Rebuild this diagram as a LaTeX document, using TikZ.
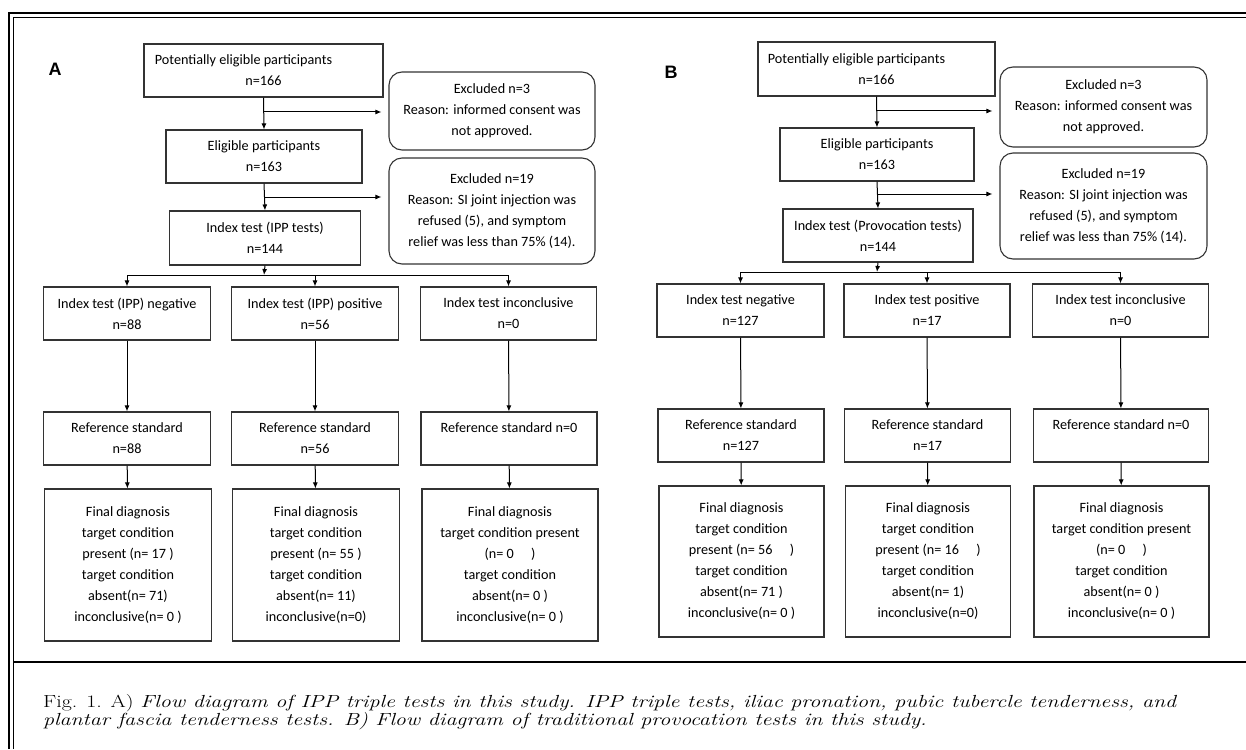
\documentclass[tikz,border=0pt]{standalone}
\usepackage{fontspec}
\newfontfamily\boxfont{Carlito}
\newfontfamily\panelfont{Liberation Sans}
\newfontfamily\capfont{Latin Modern Roman}[FakeStretch=1.255]
\usetikzlibrary{arrows.meta}

\tikzset{
  box/.style={draw=black!80, line width=1.1pt, align=center, inner sep=0pt,
    font=\boxfont\fontsize{14.2}{21}\selectfont},
  rbox/.style={box, rounded corners=13pt},
  arr/.style={line width=1pt, -{Latex[length=6pt,width=5pt]}},
  panel/.style={font=\panelfont\bfseries\fontsize{18}{18}\selectfont},
  caption/.style={align=left, inner sep=0pt, font=\capfont\fontsize{17.5}{18.5}\selectfont},
}

\begin{document}
\begin{tikzpicture}[x=1pt,y=-1pt]
\useasboundingbox (0,0) rectangle (1246,749);
\draw[line width=2.5pt] (9,749)--(9,13)--(1246,13);
\draw[line width=0.8pt] (13,749)--(13,17)--(1246,17);
\draw[line width=1.5pt] (13,662)--(1246,662);

\node[panel] (labA) at (55,69) {A};
\node[box, minimum width=239pt, minimum height=53pt] (PA) at (263.5,70.5) {Potentially eligible participants\hspace*{40pt}\\n=166};
\node[rbox, minimum width=206pt, minimum height=78pt] (XA1) at (492,111) {Excluded n=3\\Reason: informed consent was\\not approved.};
\node[box, minimum width=196pt, minimum height=53pt] (EA) at (264,156.5) {Eligible participants\\n=163};
\node[rbox, minimum width=206pt, minimum height=106pt] (XA2) at (492,211) {Excluded n=19\\Reason: SI joint injection was\\refused (5), and symptom\\relief was less than 75\% (14).};
\node[box, minimum width=191pt, minimum height=54pt] (IA) at (265,238) {Index test (IPP tests)\\n=144};
\node[box, minimum width=167pt, minimum height=53pt] (negA) at (127,313.5) {Index test (IPP) negative\\n=88};
\node[box, minimum width=167pt, minimum height=53pt] (posA) at (315,313.5) {Index test (IPP) positive\\n=56};
\node[box, minimum width=176pt, minimum height=53pt] (incA) at (508.5,313.5) {Index test inconclusive\\n=0};
\node[box, minimum width=167pt, minimum height=53pt] (refnegA) at (127,438.5) {Reference standard\\n=88};
\node[box, minimum width=167pt, minimum height=53pt] (refposA) at (315,438.5) {Reference standard\\n=56};
\node[box, minimum width=176pt, minimum height=53pt] (refincA) at (509,438.5) {Reference standard n=0\\\mbox{}};
\node[box, minimum width=167pt, minimum height=152pt] (finnegA) at (128,565) {Final diagnosis\\target condition\\present (n= 17 )\\target condition\\absent(n= 71)\\inconclusive(n= 0 )};
\node[box, minimum width=167pt, minimum height=152pt] (finposA) at (316,565) {Final diagnosis\\target condition\\present (n= 55 )\\target condition\\absent(n= 11)\\inconclusive(n=0)};
\node[box, minimum width=176pt, minimum height=152pt] (finincA) at (510,565) {Final diagnosis\\target condition present\\(n= 0\quad\ )\\target condition\\absent(n= 0 )\\inconclusive(n= 0 )};

\coordinate (bA1) at (264,112);
\coordinate (bA2) at (264,197);
\coordinate (jA) at (264,275);
\draw[arr] (PA.south) -- (EA.north);
\draw[arr, shorten >=7pt] (bA1) -- (bA1 -| XA1.west);
\draw[arr] (EA.south) -- (IA.north);
\draw[arr, shorten >=7pt] (bA2) -- (bA2 -| XA2.west);
\draw[arr] (IA.south) -- (jA);
\draw[arr] (jA) -| (negA.north);
\draw[arr] (jA) -| (posA.north);
\draw[arr] (jA) -| (incA.north);
\draw[arr] (negA) -- (refnegA);
\draw[arr] (posA) -- (refposA);
\draw[arr] (incA) -- (refincA);
\draw[arr] (refnegA) -- (finnegA);
\draw[arr] (refposA) -- (finposA);
\draw[arr] (refincA) -- (finincA);

\node[panel] (labB) at (671,72) {B};
\node[box, minimum width=237pt, minimum height=54pt] (PB) at (876.5,69) {Potentially eligible participants\hspace*{40pt}\\n=166};
\node[rbox, minimum width=207pt, minimum height=80pt] (XB1) at (1103.5,107) {Excluded n=3\\Reason: informed consent was\\not approved.};
\node[box, minimum width=194pt, minimum height=53pt] (EB) at (877,154.5) {Eligible participants\\n=163};
\node[rbox, minimum width=207pt, minimum height=106pt] (XB2) at (1103.5,206) {Excluded n=19\\Reason: SI joint injection was\\refused (5), and symptom\\relief was less than 75\% (14).};
\node[box, minimum width=190pt, minimum height=53pt] (IB) at (878,235.5) {Index test (Provocation tests)\\n=144};
\node[box, minimum width=167pt, minimum height=53pt] (negB) at (740.5,310.5) {Index test negative\\n=127};
\node[box, minimum width=166pt, minimum height=53pt] (posB) at (927,310.5) {Index test positive\\n=17};
\node[box, minimum width=176pt, minimum height=53pt] (incB) at (1120.5,310.5) {Index test inconclusive\\n=0};
\node[box, minimum width=166pt, minimum height=53pt] (refnegB) at (741,435.5) {Reference standard\\n=127};
\node[box, minimum width=166pt, minimum height=53pt] (refposB) at (927.5,435.5) {Reference standard\\n=17};
\node[box, minimum width=175pt, minimum height=53pt] (refincB) at (1121,435.5) {Reference standard n=0\\\mbox{}};
\node[box, minimum width=165pt, minimum height=151pt] (finnegB) at (741.5,561.5) {Final diagnosis\\target condition\\present (n= 56\quad\ )\\target condition\\absent(n= 71 )\\inconclusive(n= 0 )};
\node[box, minimum width=165pt, minimum height=151pt] (finposB) at (928,561.5) {Final diagnosis\\target condition\\present (n= 16\quad\ )\\target condition\\absent(n= 1)\\inconclusive(n=0)};
\node[box, minimum width=175pt, minimum height=151pt] (finincB) at (1121.5,561.5) {Final diagnosis\\target condition present\\(n= 0\quad\ )\\target condition\\absent(n= 0 )\\inconclusive(n= 0 )};

\coordinate (bB1) at (877,111);
\coordinate (bB2) at (877,194);
\coordinate (jB) at (877,272);
\draw[arr] (PB.south) -- (EB.north);
\draw[arr, shorten >=7pt] (bB1) -- (bB1 -| XB1.west);
\draw[arr] (EB.south) -- (IB.north);
\draw[arr, shorten >=7pt] (bB2) -- (bB2 -| XB2.west);
\draw[arr] (IB.south) -- (jB);
\draw[arr] (jB) -| (negB.north);
\draw[arr] (jB) -| (posB.north);
\draw[arr] (jB) -| (incB.north);
\draw[arr] (negB) -- (refnegB);
\draw[arr] (posB) -- (refposB);
\draw[arr] (incB) -- (refincB);
\draw[arr] (refnegB) -- (finnegB);
\draw[arr] (refposB) -- (finposB);
\draw[arr] (refincB) -- (finincB);

\node[caption, anchor=west] (cap) at (43,712) {Fig. 1. A) \textit{Flow diagram of IPP triple tests in this study. IPP triple tests, iliac pronation, pubic tubercle tenderness, and}\\\textit{plantar fascia tenderness tests. B) Flow diagram of traditional provocation tests in this study.}};
\end{tikzpicture}
\end{document}
